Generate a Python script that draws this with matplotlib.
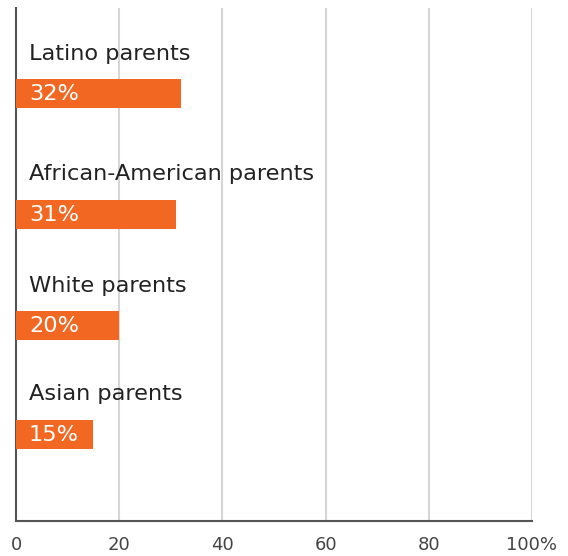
import matplotlib
matplotlib.use("Agg")
import matplotlib.pyplot as plt

categories = ["Latino parents", "African-American parents", "White parents", "Asian parents"]
values = [32, 31, 20, 15]
tick_values = [0, 20, 40, 60, 80, 100]
tick_labels = ["0", "20", "40", "60", "80", "100%"]

plt.rcParams['font.family'] = ['DejaVu Sans']

fig = plt.figure(figsize=(5.68, 5.56), dpi=100)
ax = fig.add_axes([16/568, 1 - 521/556, (532-16)/568, (521-8)/556])

# layout: bar centres in pixel-like vertical units (top = 8, bottom = 521)
ypos = [93.5, 214, 325, 434]
bar_h = 29
orange = "#F26722"

ax.barh(ypos, values, height=bar_h, color=orange, zorder=3)
for y, v, c in zip(ypos, values, categories):
    ax.text(2.5, y - 39.5, c, va="center", ha="left", fontsize=16.2, color="#222222", zorder=4)
    ax.text(2.5, y + 1, f"{v}%", va="center", ha="left", fontsize=16.2, color="white", zorder=4)

ax.set_xlim(0, 100)
ax.set_ylim(521, 8)
ax.set_xticks(tick_values)
ax.set_xticklabels(tick_labels, fontsize=13, color="#444444")
ax.set_yticks([])
ax.tick_params(axis="x", length=0, pad=11)

for x in tick_values[1:]:
    ax.axvline(x, color="#d6d6d6", lw=1.5, zorder=1, ymax=1 - (9-8)/513)

for s in ["top", "right"]:
    ax.spines[s].set_visible(False)
ax.spines["left"].set_color("#555555")
ax.spines["left"].set_linewidth(1.5)
ax.spines["bottom"].set_color("#555555")
ax.spines["bottom"].set_linewidth(1.5)

fig.savefig("out.png", dpi=100)
